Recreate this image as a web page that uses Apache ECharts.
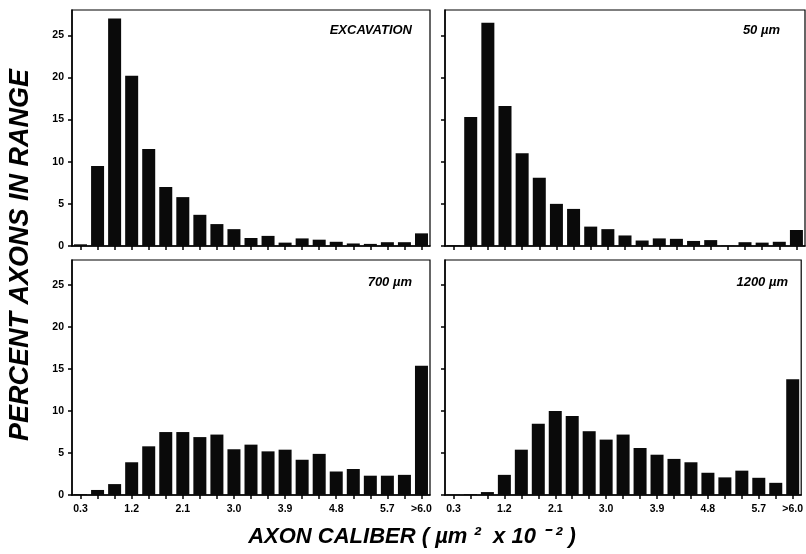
<!DOCTYPE html>
<html>
<head>
<meta charset="utf-8">
<script src="https://cdn.jsdelivr.net/npm/echarts@6/dist/echarts.min.js"></script>
<style>
  html, body { margin: 0; padding: 0; background: #fff; }
  #chart { width: 806px; height: 554px; }
</style>
</head>
<body>
<div id="chart"></div>
<script>
// caliber bins (um^2 x 10^-2)
const calibers = ['0.3', '0.6', '0.9', '1.2', '1.5', '1.8', '2.1', '2.4', '2.7', '3.0', '3.3',
  '3.6', '3.9', '4.2', '4.5', '4.8', '5.1', '5.4', '5.7', '6.0', '>6.0'];

const panelNames = ['EXCAVATION', '50 \u00b5m', '700 \u00b5m', '1200 \u00b5m'];

// percent axons in range
const excavation = [0.2, 9.5, 27.0, 20.2, 11.5, 7.0, 5.8, 3.7, 2.6, 2.0, 0.95,
  1.2, 0.4, 0.9, 0.75, 0.5, 0.3, 0.25, 0.45, 0.45, 1.5];
const at50 = [0.1, 15.3, 26.5, 16.6, 11.0, 8.1, 5.0, 4.4, 2.3, 2.0, 1.25,
  0.65, 0.9, 0.85, 0.6, 0.7, 0.05, 0.45, 0.4, 0.5, 1.9];
const at700 = [0.1, 0.6, 1.3, 3.9, 5.8, 7.5, 7.5, 6.9, 7.2, 5.45, 6.0,
  5.2, 5.4, 4.2, 4.9, 2.8, 3.1, 2.3, 2.3, 2.4, 15.4];
const at1200 = [0.05, 0.1, 0.35, 2.4, 5.4, 8.5, 10.0, 9.4, 7.6, 6.6, 7.2,
  5.6, 4.8, 4.3, 3.9, 2.65, 2.1, 2.9, 2.05, 1.45, 13.8];

const yTicks = [0, 5, 10, 15, 20, 25];

const panelData = [excavation, at50, at700, at1200];

const FONT = 'Liberation Sans';

const grids = [
  { left: 72, top: 10, width: 358, height: 236 },
  { left: 445, top: 10, width: 360, height: 236 },
  { left: 72, top: 260, width: 358, height: 235 },
  { left: 445, top: 260, width: 360, height: 235 }
];

const xAxes = grids.map((g, i) => ({
  type: 'category',
  gridIndex: i,
  data: calibers,
  axisLine: { show: true, lineStyle: { color: '#000', width: 1.5 } },
  axisTick: {
    show: true,
    alignWithLabel: true,
    interval: 0,
    length: 4,
    lineStyle: { color: '#000', width: 1.5 }
  },
  axisLabel: {
    show: i >= 2,
    interval: function (index) { return index % 3 === 0 || index === 20; },
    margin: 9,
    color: '#000',
    fontFamily: FONT,
    fontWeight: 'bold',
    fontSize: 10.5
  }
}));

const yAxes = grids.map((g, i) => ({
  type: 'value',
  gridIndex: i,
  min: 0,
  max: 28,
  splitLine: { show: false },
  axisLine: { show: true, lineStyle: { color: '#000', width: 1.5 } },
  axisTick: {
    show: true,
    length: 4,
    customValues: yTicks,
    lineStyle: { color: '#000', width: 1.5 }
  },
  axisLabel: {
    show: i % 2 === 0,
    customValues: yTicks,
    margin: 8,
    color: '#000',
    fontFamily: FONT,
    fontWeight: 'bold',
    fontSize: 10.5
  }
}));

const series = panelData.map((d, i) => ({
  type: 'bar',
  xAxisIndex: i,
  yAxisIndex: i,
  data: d,
  barWidth: 13,
  itemStyle: { color: '#0a0a0a' }
}));

const labelPos = [[412, 30], [780, 30], [412, 282], [788, 282]];
const panelLabels = panelNames.map((name, i) => ({
  type: 'text',
  x: labelPos[i][0],
  y: labelPos[i][1],
  style: {
    text: name,
    align: 'right',
    verticalAlign: 'middle',
    fill: '#000',
    font: 'italic bold 13px "' + FONT + '"'
  }
}));

const option = {
  animation: false,
  backgroundColor: '#fff',
  grid: grids.map(g => Object.assign({ show: true, borderColor: '#000', borderWidth: 1.2 }, g)),
  xAxis: xAxes,
  yAxis: yAxes,
  series: series,
  graphic: panelLabels.concat([
    {
      type: 'text',
      x: 21,
      y: 255,
      rotation: Math.PI / 2,
      style: {
        text: 'PERCENT AXONS IN RANGE',
        align: 'center',
        verticalAlign: 'middle',
        fill: '#000',
        font: 'italic bold 27px "' + FONT + '"'
      }
    },
    {
      type: 'text',
      x: 412,
      y: 537,
      style: {
        text: 'AXON CALIBER ( \u00b5m \u00b2  x 10 \u207b \u00b2 )',
        align: 'center',
        verticalAlign: 'middle',
        fill: '#000',
        font: 'italic bold 22px "' + FONT + '"'
      }
    }
  ])
};

const myChart = echarts.init(document.getElementById('chart'));
myChart.setOption(option);
</script>
</body>
</html>
